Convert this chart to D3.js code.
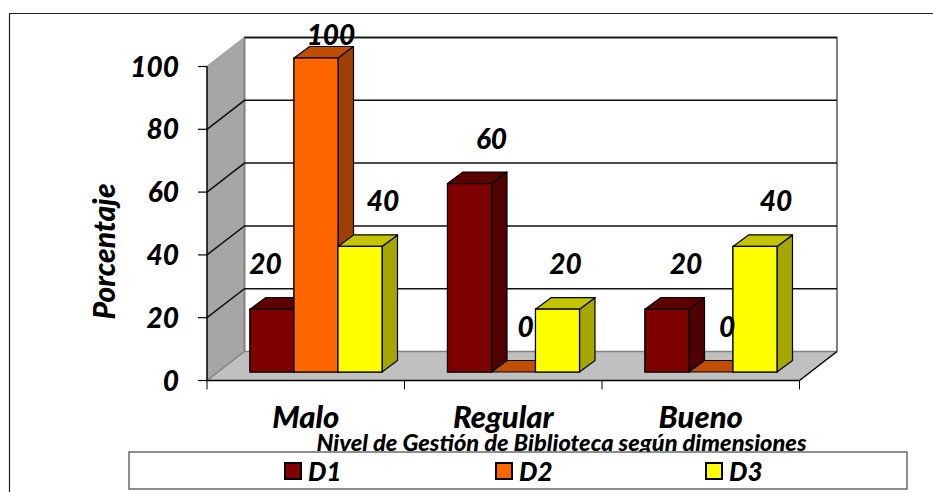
<!DOCTYPE html>
<meta charset="utf-8">
<style>
body { margin: 0; background: #fff; overflow: hidden; }
text { font-family: Lato, "Open Sans", sans-serif; font-weight: 900; font-style: italic; fill: #000; }
.tick-label { font-size: 28px; text-anchor: end; }
.value-label { font-size: 28px; text-anchor: middle; }
.cat-label { font-size: 31px; text-anchor: middle; }
.legend-label { font-size: 26px; }
</style>
<svg width="933" height="492"></svg>
<script src="https://cdn.jsdelivr.net/npm/d3@7"></script>
<script>

const categories = ["Malo", "Regular", "Bueno"];
const seriesNames = ["D1", "D2", "D3"];
const d1 = [20, 60, 20];
const d2 = [100, 0, 0];
const d3Values = [40, 20, 40];
const yTicks = [0, 20, 40, 60, 80, 100];

const frontColours = ["#7f0000", "#ff6600", "#ffff00"];
const topColours = ["#5f0000", "#c04d00", "#c4c400"];
const sideColours = ["#4f0000", "#a04000", "#a6a600"];

const allSeries = [d1, d2, d3Values];

const svg = d3.select("svg");

// outer frame, only top and left are visible
svg.append("path").attr("d", "M9.5,492V13.5H933").attr("fill", "none").attr("stroke", "#222").attr("stroke-width", 1.2);

const x = d3.scaleBand().domain(categories).range([207, 799.5]);
const y = d3.scaleLinear().domain([0, 100]).range([380.5, 66.5]);

// depth of the 3d box and of the bars
const depthX = 37.5, depthY = -29;
const barDepthX = 15.5, barDepthY = -11.5;
const barOffY = -8.5;
const groupInset = 43;
const barW = 44;

function poly(points) { return "M" + points.map(p => p.join(",")).join("L") + "Z"; }

const x0 = x.range()[0], x1 = x.range()[1];
const yBase = y(0), yTop = y(100);

// side wall
svg.append("path")
  .attr("d", poly([[x0, yBase], [x0 + depthX, yBase + depthY], [x0 + depthX, yTop + depthY], [x0, yTop]]))
  .attr("fill", "#a6a6a6");
// floor
svg.append("path")
  .attr("d", poly([[x0, yBase], [x0 + depthX, yBase + depthY], [x1 + depthX, yBase + depthY], [x1, yBase]]))
  .attr("fill", "#c0c0c0");

// back wall outline
svg.append("path")
  .attr("d", `M${x0 + depthX},${yBase + depthY}V${yTop + depthY}H${x1 + depthX}V${yBase + depthY}`)
  .attr("fill", "none").attr("stroke", "#808080").attr("stroke-width", 2);
svg.append("path")
  .attr("d", `M${x0},${yTop}L${x0 + depthX},${yTop + depthY}`)
  .attr("stroke", "#a0a0a0").attr("stroke-width", 1.5);
svg.append("path")
  .attr("d", `M${x0},${yBase}L${x0 + depthX},${yBase + depthY}H${x1 + depthX}`)
  .attr("fill", "none").attr("stroke", "#808080").attr("stroke-width", 1.5);

// gridlines run along the wall and then across the back
svg.append("g").selectAll("path").data(yTicks.slice(1)).join("path")
  .attr("d", d => d === 100
    ? `M${x0 + depthX},${y(d) + depthY}H${x1 + depthX}`
    : `M${x0},${y(d)}L${x0 + depthX},${y(d) + depthY}H${x1 + depthX}`)
  .attr("fill", "none").attr("stroke", "#111").attr("stroke-width", 1.5);

// bars
categories.forEach((cat, i) => {
  const groupX = x(cat) + groupInset;
  allSeries.forEach((vals, s) => {
    const v = vals[i];
    const bx = groupX + s * barW;
    const by0 = y(0) + barOffY;
    const by1 = y(v) + barOffY;
    const g = svg.append("g").attr("stroke", "#000").attr("stroke-width", 1.2).attr("stroke-linejoin", "round");
    if (v > 0) {
      g.append("path").attr("fill", sideColours[s])
        .attr("d", poly([[bx + barW, by0], [bx + barW + barDepthX, by0 + barDepthY], [bx + barW + barDepthX, by1 + barDepthY], [bx + barW, by1]]));
      g.append("path").attr("fill", frontColours[s])
        .attr("d", poly([[bx, by0], [bx + barW, by0], [bx + barW, by1], [bx, by1]]));
    }
    g.append("path").attr("fill", topColours[s])
      .attr("d", poly([[bx, by1], [bx + barDepthX, by1 + barDepthY], [bx + barW + barDepthX, by1 + barDepthY], [bx + barW, by1]]));
  });
});

// redraw front faces of neighbours so the flat zero bars sit behind them
categories.forEach((cat, i) => {
  const groupX = x(cat) + groupInset;
  allSeries.forEach((vals, s) => {
    const v = vals[i];
    if (v === 0) return;
    const bx = groupX + s * barW;
    svg.append("rect").attr("x", bx).attr("y", y(v) + barOffY).attr("width", barW).attr("height", y(0) - y(v))
      .attr("fill", frontColours[s]).attr("stroke", "#000").attr("stroke-width", 1.2);
  });
});

// front axes
svg.append("path").attr("d", `M${x0},${yTop}V${yBase}H${x1}`).attr("fill", "none").attr("stroke", "#000").attr("stroke-width", 1.5);
svg.append("path").attr("d", `M${x1},${yBase}L${x1 + depthX},${yBase + depthY}`).attr("stroke", "#000").attr("stroke-width", 1.5);

svg.append("g").selectAll("line").data(yTicks).join("line")
  .attr("x1", x0 - 9).attr("x2", x0).attr("y1", d => y(d)).attr("y2", d => y(d))
  .attr("stroke", "#000").attr("stroke-width", 1.2);

svg.append("g").selectAll("line").data([x0, x0 + x.bandwidth(), x0 + 2 * x.bandwidth(), x1]).join("line")
  .attr("x1", d => d).attr("x2", d => d).attr("y1", yBase).attr("y2", yBase + 9)
  .attr("stroke", "#000").attr("stroke-width", 1);

svg.append("g").selectAll("text").data(yTicks).join("text")
  .attr("class", "tick-label")
  .attr("x", 179).attr("y", d => y(d) + 10)
  .text(d => d);

svg.append("g").selectAll("text").data(categories).join("text")
  .attr("class", "cat-label")
  .attr("x", d => x(d) + x.bandwidth() / 2 + 0).attr("y", 428)
  .text(d => d);

svg.append("text").attr("transform", "translate(115,251.5) rotate(-90)")
  .attr("text-anchor", "middle").style("font-size", "30px").text("Porcentaje");

// value labels sit above the bars, each nudged by hand like the original; 100 is pulled down to stay in the plot
const labelNudge = [[-6.5, 22, 19], [15, 12, 16], [23, 8, 21]];
categories.forEach((cat, i) => {
  allSeries.forEach((vals, s) => {
    const bx = x(cat) + groupInset + s * barW;
    svg.append("text").attr("class", "value-label")
      .attr("x", bx + barW / 2 + labelNudge[s][i])
      .attr("y", Math.max(45, y(vals[i]) + barOffY - 35))
      .text(vals[i]);
  });
});

svg.append("text").attr("x", 561.5).attr("y", 451).attr("text-anchor", "middle")
  .style("font-size", "23.6px").text("Nivel de Gestión de Biblioteca según dimensiones");

// legend box covers the descenders of the title
svg.append("rect").attr("x", 129).attr("y", 452).attr("width", 778).attr("height", 37)
  .attr("fill", "#fff").attr("stroke", "#444").attr("stroke-width", 1.2);

const legendX = [285, 496, 706];
seriesNames.forEach((name, s) => {
  svg.append("rect").attr("x", legendX[s]).attr("y", 463).attr("width", 16).attr("height", 16)
    .attr("fill", frontColours[s]).attr("stroke", "#000").attr("stroke-width", 2);
  svg.append("text").attr("class", "legend-label").attr("x", legendX[s] + 23).attr("y", 481).text(name);
});
</script>
